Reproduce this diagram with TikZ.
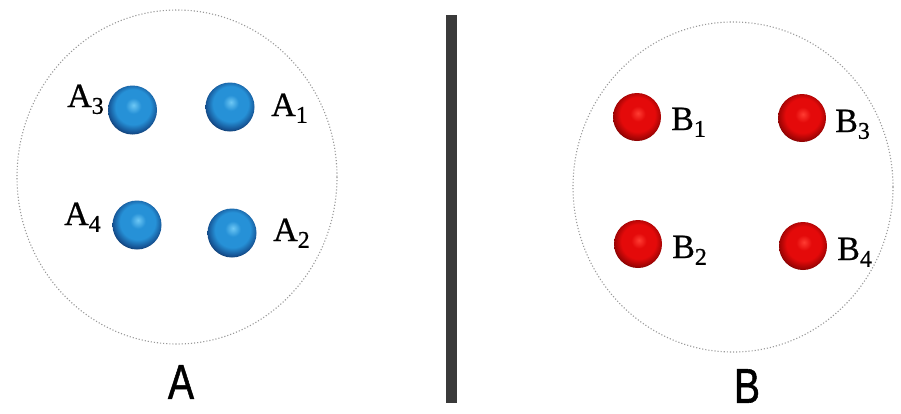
\documentclass[tikz,border=0pt]{standalone}
\usepackage{fontspec}
\setmainfont{Liberation Serif}
\setsansfont{Liberation Sans}
\newfontfamily\lblfont[FakeBold=0.7]{Liberation Serif}
\newfontfamily\bigfont[FakeBold=1.2]{Liberation Sans}
\definecolor{bhi}{RGB}{110,200,245}
\definecolor{bmid}{RGB}{38,145,215}
\definecolor{blo}{RGB}{22,85,150}
\definecolor{bdk}{RGB}{10,30,65}
\definecolor{rhi}{RGB}{255,60,50}
\definecolor{rmid}{RGB}{228,10,10}
\definecolor{rlo}{RGB}{160,4,4}
\definecolor{rdk}{RGB}{70,0,0}
\definecolor{barcol}{RGB}{58,58,58}
\pgfdeclareradialshading{blueball}{\pgfpoint{1bp}{5bp}}{color(0bp)=(bhi); color(8bp)=(bmid); color(18bp)=(bmid); color(25bp)=(blo); color(31bp)=(bdk); color(50bp)=(bdk)}
\pgfdeclareradialshading{redball}{\pgfpoint{1bp}{4bp}}{color(0bp)=(rhi); color(8bp)=(rmid); color(18bp)=(rmid); color(25bp)=(rlo); color(31bp)=(rdk); color(50bp)=(rdk)}
\newcommand\sublbl[2]{#1\raisebox{-0.2em}{\fontsize{24}{24}\selectfont #2}}
\begin{document}
\begin{tikzpicture}[x=1pt,y=-1pt,
  region/.style={draw=gray!80, dotted, line width=1.1pt},
  ballA/.style={circle, inner sep=0pt, minimum size=49pt, shade, shading=blueball},
  ballB/.style={circle, inner sep=0pt, minimum size=48pt, shade, shading=redball},
  lbl/.style={font=\lblfont\fontsize{34}{34}\selectfont, inner sep=0pt, anchor=base west},
  big/.style={font=\bigfont\fontsize{49}{49}\selectfont, inner sep=0pt, xscale=0.8}]
\useasboundingbox (0,0) rectangle (901,413);
\fill[white] (0,0) rectangle (901,413);
% regions
\draw[region] (177,177) ellipse [x radius=160, y radius=167];
\draw[region] (733,187) ellipse [x radius=160, y radius=165];
% separator
\node[fill=barcol, inner sep=0pt, minimum width=11pt, minimum height=388pt] (bar) at (451,209) {};
% A balls
\node[ballA] (a3) at (132.5,110) {};
\node[ballA] (a1) at (230,107) {};
\node[ballA] (a4) at (137,225) {};
\node[ballA] (a2) at (232,233) {};
\node[lbl] (la3) at (67,107) {\sublbl{A}{3}};
\node[lbl] (la1) at (271,116) {\sublbl{A}{1}};
\node[lbl] (la4) at (64,225) {\sublbl{A}{4}};
\node[lbl] (la2) at (273,241) {\sublbl{A}{2}};
% B balls
\node[ballB] (b1) at (637,117) {};
\node[ballB] (b3) at (802,118) {};
\node[ballB] (b2) at (638,244) {};
\node[ballB] (b4) at (803,246) {};
\node[lbl] (lb1) at (671,130) {\sublbl{B}{1}};
\node[lbl] (lb3) at (835,132) {\sublbl{B}{3}};
\node[lbl] (lb2) at (672,258) {\sublbl{B}{2}};
\node[lbl] (lb4) at (837,260) {\sublbl{B}{4}};
% titles
\node[big] (tA) at (181,382) {A};
\node[big] (tB) at (747,386) {B};
\end{tikzpicture}
\end{document}
